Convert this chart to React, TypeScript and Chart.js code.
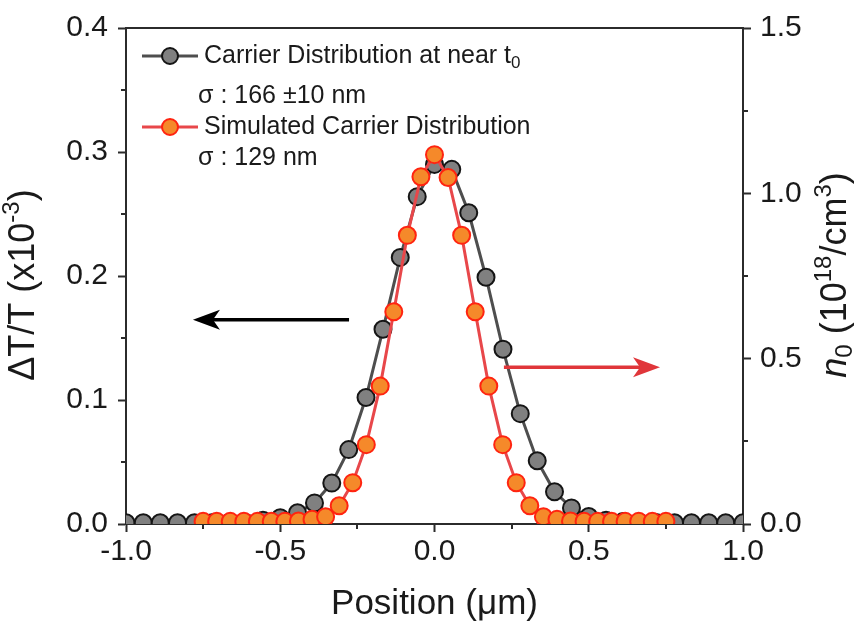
import React, { useEffect, useRef } from 'react';
import { Chart, registerables } from 'chart.js';

Chart.register(...registerables);

// Measured carrier distribution (left axis, ΔT/T x10^-3)
const measuredX = [
  -1.0, -0.944, -0.889, -0.833, -0.778, -0.722, -0.667, -0.611, -0.556, -0.5,
  -0.444, -0.389, -0.333, -0.278, -0.222, -0.167, -0.111, -0.056, 0.0,
  0.056, 0.111, 0.167, 0.222, 0.278, 0.333, 0.389, 0.444, 0.5, 0.556,
  0.611, 0.667, 0.722, 0.778, 0.833, 0.889, 0.944, 1.0,
];
const measuredDT = [
  0.001, 0.001, 0.001, 0.001, 0.001, 0.001, 0.001, 0.001, 0.003, 0.005,
  0.009, 0.017, 0.033, 0.06, 0.102, 0.157, 0.215, 0.264, 0.29,
  0.286, 0.251, 0.199, 0.141, 0.089, 0.051, 0.026, 0.013, 0.006, 0.003,
  0.002, 0.001, 0.001, 0.001, 0.001, 0.001, 0.001, 0.001,
];

// Simulated carrier distribution (right axis, n0 in 10^18/cm^3)
const simX = [
  -0.75, -0.706, -0.662, -0.618, -0.574, -0.529, -0.485, -0.441, -0.397,
  -0.353, -0.309, -0.265, -0.221, -0.176, -0.132, -0.088, -0.044, 0.0,
  0.044, 0.088, 0.132, 0.176, 0.221, 0.265, 0.309, 0.353, 0.397, 0.441,
  0.485, 0.529, 0.574, 0.618, 0.662, 0.706, 0.75,
];
const simN0 = [
  0.008, 0.008, 0.008, 0.008, 0.008, 0.008, 0.008, 0.009, 0.014,
  0.022, 0.055, 0.125, 0.24, 0.417, 0.642, 0.873, 1.05, 1.117,
  1.048, 0.873, 0.642, 0.417, 0.24, 0.125, 0.055, 0.022, 0.014, 0.009,
  0.008, 0.008, 0.008, 0.008, 0.008, 0.008, 0.008,
];

const xMinorTicks = [-0.75, -0.25, 0.25, 0.75];
const yMinorTicks = [0.05, 0.15, 0.25, 0.35];
const y2MinorTicks = [0.25, 0.75, 1.25];

const legendLabels = ['Carrier Distribution at near t', 'Simulated Carrier Distribution'];
const legendSubs = ['0', ''];
const sigmaLabels = ['σ : 166 ±10 nm', 'σ : 129 nm'];

// Arrow annotations in data coordinates
const arrowDefs = [
  { x0: -0.277, x1: -0.783, y: 0.1647, axis: 'y', color: '#000000' },
  { x0: 0.225, x1: 0.731, y: 0.474, axis: 'y2', color: '#e0363a' },
];

const FONT = "'Liberation Sans', Arial, Helvetica, sans-serif";
const TEXT = '#1a1a1a';
const AXIS = '#2b2b2b';

type Seg = { t: string; size: number; dy?: number; italic?: boolean };

function drawRich(ctx: CanvasRenderingContext2D, segs: Seg[], x: number, y: number, align: 'left' | 'center') {
  ctx.textBaseline = 'middle';
  ctx.textAlign = 'left';
  let total = 0;
  const widths = segs.map((s) => {
    ctx.font = `${s.italic ? 'italic ' : ''}${s.size}px ${FONT}`;
    const w = ctx.measureText(s.t).width;
    total += w;
    return w;
  });
  let cx = align === 'center' ? x - total / 2 : x;
  segs.forEach((s, i) => {
    ctx.font = `${s.italic ? 'italic ' : ''}${s.size}px ${FONT}`;
    ctx.fillText(s.t, cx, y + (s.dy || 0));
    cx += widths[i];
  });
}

function drawArrow(ctx: CanvasRenderingContext2D, x0: number, y0: number, x1: number, y1: number, color: string) {
  const dx = x1 - x0;
  const dy = y1 - y0;
  const len = Math.hypot(dx, dy);
  const ux = dx / len;
  const uy = dy / len;
  const px = -uy;
  const py = ux;
  const headLen = 27;
  const headW = 10;
  const notch = 20;
  ctx.save();
  ctx.strokeStyle = color;
  ctx.fillStyle = color;
  ctx.lineWidth = 3.5;
  ctx.beginPath();
  ctx.moveTo(x0, y0);
  ctx.lineTo(x1 - ux * notch, y1 - uy * notch);
  ctx.stroke();
  ctx.beginPath();
  ctx.moveTo(x1, y1);
  ctx.lineTo(x1 - ux * headLen + px * headW, y1 - uy * headLen + py * headW);
  ctx.lineTo(x1 - ux * notch, y1 - uy * notch);
  ctx.lineTo(x1 - ux * headLen - px * headW, y1 - uy * headLen - py * headW);
  ctx.closePath();
  ctx.fill();
  ctx.restore();
}

const decorPlugin = {
  id: 'decor',
  afterDraw(chart: any) {
    const ctx: CanvasRenderingContext2D = chart.ctx;
    const { left, right, top, bottom } = chart.chartArea;
    const xs = chart.scales.x;
    const ys = chart.scales.y;
    const y2s = chart.scales.y2;
    ctx.save();

    // top frame line
    ctx.strokeStyle = AXIS;
    ctx.lineWidth = 2;
    ctx.beginPath();
    ctx.moveTo(left - 1, top);
    ctx.lineTo(right + 1, top);
    ctx.stroke();

    // minor ticks
    ctx.lineWidth = 2;
    ctx.beginPath();
    xMinorTicks.forEach((v) => {
      const px = Math.round(xs.getPixelForValue(v));
      ctx.moveTo(px, bottom);
      ctx.lineTo(px, bottom + 5);
    });
    yMinorTicks.forEach((v) => {
      const py = Math.round(ys.getPixelForValue(v));
      ctx.moveTo(left, py);
      ctx.lineTo(left - 5, py);
    });
    y2MinorTicks.forEach((v) => {
      const py = Math.round(y2s.getPixelForValue(v));
      ctx.moveTo(right, py);
      ctx.lineTo(right + 5, py);
    });
    ctx.stroke();

    // arrows
    arrowDefs.forEach((a) => {
      const sc = chart.scales[a.axis];
      const py = sc.getPixelForValue(a.y);
      drawArrow(ctx, xs.getPixelForValue(a.x0), py, xs.getPixelForValue(a.x1), py, a.color);
    });

    // legend
    const ds = chart.data.datasets;
    const rows = [56, 127];
    rows.forEach((ry, i) => {
      const d = ds[i];
      ctx.strokeStyle = d.borderColor;
      ctx.lineWidth = 3;
      ctx.beginPath();
      ctx.moveTo(left + 16, ry);
      ctx.lineTo(left + 72, ry);
      ctx.stroke();
      ctx.beginPath();
      ctx.arc(left + 44, ry, 8, 0, Math.PI * 2);
      ctx.fillStyle = d.pointBackgroundColor;
      ctx.fill();
      ctx.lineWidth = 2;
      ctx.strokeStyle = d.pointBorderColor;
      ctx.stroke();
      ctx.fillStyle = TEXT;
      const segs: Seg[] = [{ t: legendLabels[i], size: 25 }];
      if (legendSubs[i]) segs.push({ t: legendSubs[i], size: 17, dy: 7 });
      drawRich(ctx, segs, left + 78, ry, 'left');
      drawRich(ctx, [{ t: sigmaLabels[i], size: 25 }], left + 72, ry + (i === 0 ? 40 : 31), 'left');
    });

    // axis titles
    ctx.fillStyle = TEXT;
    drawRich(ctx, [{ t: 'Position (μm)', size: 35 }], (left + right) / 2, 604, 'center');

    ctx.save();
    ctx.translate(24, 285);
    ctx.rotate(-Math.PI / 2);
    drawRich(ctx, [
      { t: 'ΔT/T (x10', size: 36 },
      { t: '-3', size: 24, dy: -12 },
      { t: ')', size: 36 },
    ], 0, 0, 'center');
    ctx.restore();

    ctx.save();
    ctx.translate(836, 275);
    ctx.rotate(-Math.PI / 2);
    drawRich(ctx, [
      { t: 'n', size: 36, italic: true },
      { t: '0', size: 24, dy: 9 },
      { t: ' (10', size: 36 },
      { t: '18', size: 24, dy: -12 },
      { t: '/cm', size: 36 },
      { t: '3', size: 24, dy: -12 },
      { t: ')', size: 36 },
    ], 0, 0, 'center');
    ctx.restore();

    ctx.restore();
  },
};

export default function App() {
  const ref = useRef<HTMLCanvasElement | null>(null);

  useEffect(() => {
    if (!ref.current) return;
    Chart.defaults.font.family = FONT;
    const tickFont = { size: 30, family: FONT };
    const gridOpts = {
      display: true,
      drawOnChartArea: false,
      drawTicks: true,
      tickLength: 8,
      tickWidth: 2,
      tickColor: AXIS,
    };
    const borderOpts = { display: true, color: AXIS, width: 2 };
    const chart = new Chart(ref.current, {
      type: 'scatter',
      data: {
        datasets: [
          {
            label: legendLabels[0],
            data: measuredX.map((x, i) => ({ x, y: measuredDT[i] })),
            yAxisID: 'y',
            showLine: true,
            borderColor: '#4e4e4e',
            borderWidth: 3,
            pointRadius: 8.5,
            pointBackgroundColor: '#808080',
            pointBorderColor: '#151515',
            pointBorderWidth: 2,
            order: 2,
            clip: 0,
          } as any,
          {
            label: legendLabels[1],
            data: simX.map((x, i) => ({ x, y: simN0[i] })),
            yAxisID: 'y2',
            showLine: true,
            borderColor: '#e8474a',
            borderWidth: 3,
            pointRadius: 8.5,
            pointBackgroundColor: '#f5892a',
            pointBorderColor: '#ff2410',
            pointBorderWidth: 2,
            order: 1,
            clip: 0,
          } as any,
        ],
      },
      options: {
        animation: false,
        responsive: false,
        devicePixelRatio: 1,
        layout: { padding: { top: 26, left: 0, right: 0, bottom: 0 } },
        plugins: { legend: { display: false }, tooltip: { enabled: false } },
        scales: {
          x: {
            type: 'linear',
            min: -1,
            max: 1,
            ticks: {
              stepSize: 0.5,
              font: tickFont,
              color: TEXT,
              padding: 2,
              maxRotation: 0,
              callback: (v: any) => Number(v).toFixed(1),
            },
            grid: gridOpts,
            border: borderOpts,
            afterFit: (s: any) => {
              s.height = 109;
            },
          },
          y: {
            type: 'linear',
            position: 'left',
            min: 0,
            max: 0.4,
            ticks: {
              stepSize: 0.1,
              font: tickFont,
              color: TEXT,
              padding: 10,
              callback: (v: any) => Number(v).toFixed(1),
            },
            grid: gridOpts,
            border: borderOpts,
            afterFit: (s: any) => {
              s.width = 126;
            },
          },
          y2: {
            type: 'linear',
            position: 'right',
            min: 0,
            max: 1.5,
            ticks: {
              stepSize: 0.5,
              font: tickFont,
              color: TEXT,
              padding: 9,
              callback: (v: any) => Number(v).toFixed(1),
            },
            grid: gridOpts,
            border: borderOpts,
            afterFit: (s: any) => {
              s.width = 114;
            },
          },
        },
      } as any,
      plugins: [decorPlugin],
    });
    return () => chart.destroy();
  }, []);

  return (
    <div style={{ position: 'fixed', left: 0, top: 0, width: 857, height: 633, background: '#ffffff' }}>
      <canvas ref={ref} width={857} height={633} style={{ width: 857, height: 633, display: 'block' }} />
    </div>
  );
}
